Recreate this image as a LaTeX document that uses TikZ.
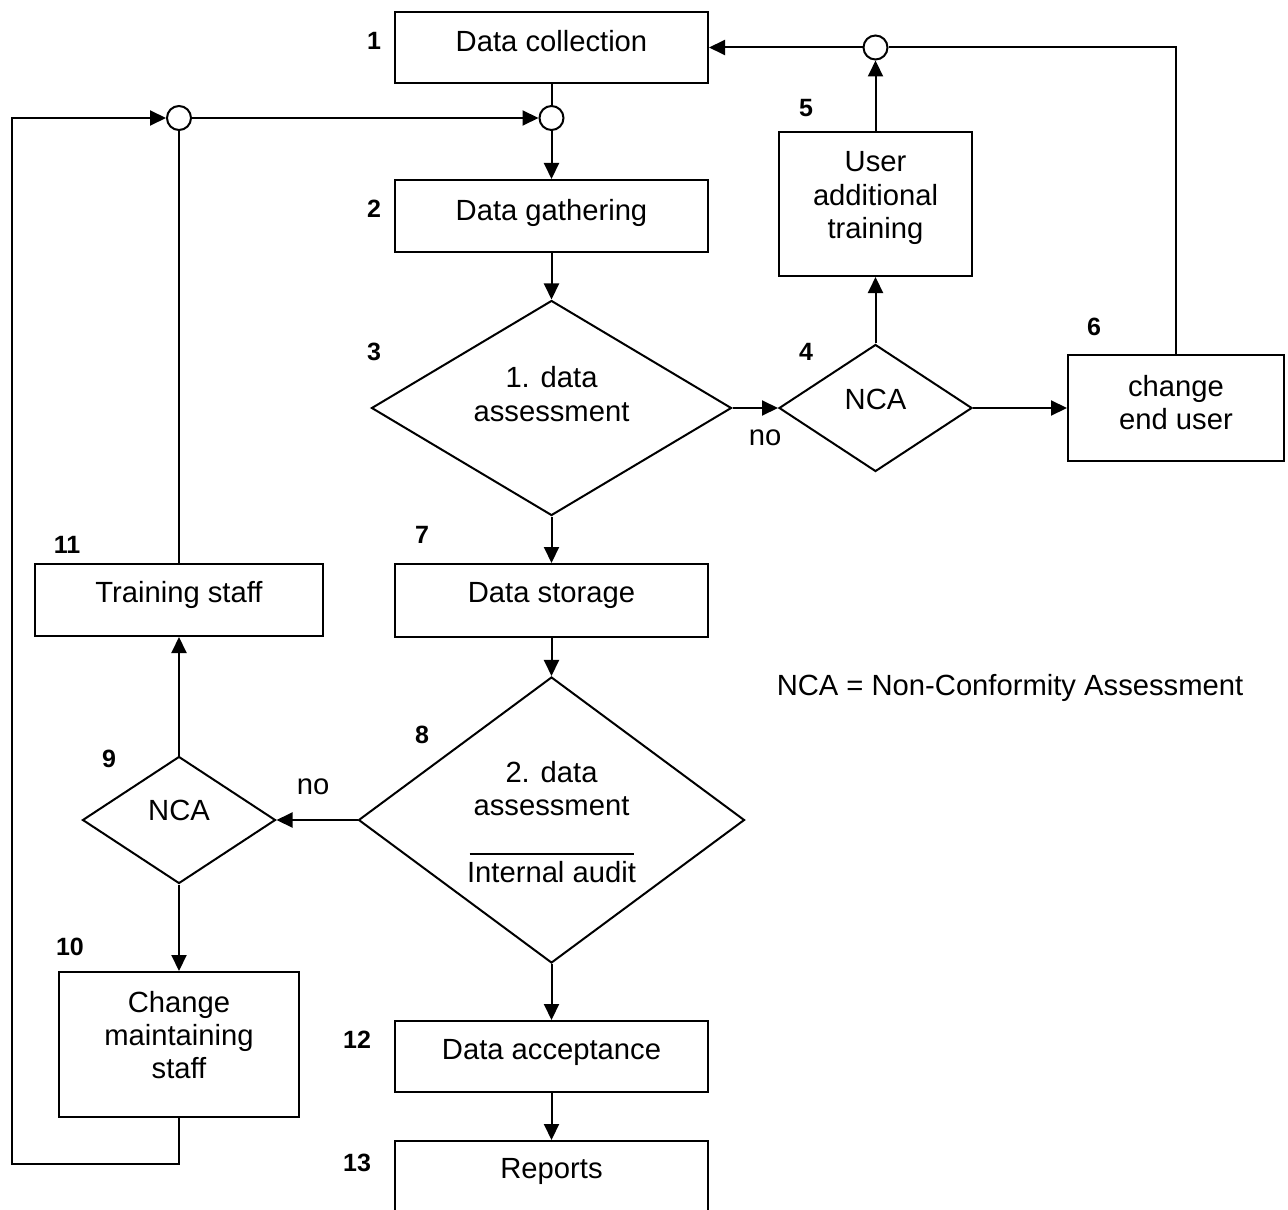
\documentclass[tikz,border=0pt]{standalone}
\usepackage{fontspec}
\setmainfont{Liberation Sans}
\usetikzlibrary{arrows.meta, shapes.geometric}

\begin{document}
\begin{tikzpicture}[x=0.5pt, y=-0.5pt, line width=1pt,
  font=\fontsize{14.6}{16.6}\selectfont,
  box/.style={draw, rectangle, inner sep=0pt},
  decision/.style={draw, diamond, inner sep=0pt},
  junction/.style={draw, circle, fill=white, inner sep=0pt, minimum size=12pt},
  stepno/.style={font=\fontsize{12.5}{14}\selectfont\bfseries},
  arr/.style={-{Triangle[length=8pt, width=7.5pt]}}]
\useasboundingbox (0,0) rectangle (1288,1209);

% Main column
\node[box, minimum width=156.5pt, minimum height=35.5pt,
  label={[yshift=3.25pt]center:Data collection}] (collect) at (551.5,47.5) {};
\node[junction] (j1) at (551.5,118) {};
\node[box, minimum width=156.5pt, minimum height=36pt,
  label={[yshift=1.5pt]center:Data gathering}] (gather) at (551.5,216) {};
\node[decision, minimum width=180pt, minimum height=107.5pt,
  label={[align=center, yshift=7pt]center:1. data\\assessment}] (assess1) at (551.5,408) {};
\node[box, minimum width=156.5pt, minimum height=36.5pt,
  label={[yshift=2.75pt]center:Data storage}] (storage) at (551.5,600.5) {};
\node[decision, minimum width=193pt, minimum height=143pt,
  label={[align=center, yshift=-1pt]center:2. data\\assessment\\[17pt]Internal audit}] (assess2) at (551.5,820) {};
\draw ([shift={(-82,34)}]assess2.center) -- ([shift={(82,34)}]assess2.center);
\node[box, minimum width=156.5pt, minimum height=35.5pt,
  label={[yshift=2.25pt]center:Data acceptance}] (accept) at (551.5,1056.5) {};
\node[box, minimum width=156.5pt, minimum height=36pt,
  label={[yshift=3pt]center:Reports}] (reports) at (551.5,1177) {};

% Right branch
\node[decision, minimum width=96.5pt, minimum height=63.5pt,
  label={[yshift=4.5pt]center:NCA}] (nca1) at (875.5,408) {};
\node[box, minimum width=96.5pt, minimum height=72pt,
  label={[align=center, yshift=3pt]center:User\\additional\\training}] (userTrain) at (875.5,204) {};
\node[junction] (j2) at (875.5,47.5) {};
\node[box, minimum width=108pt, minimum height=53pt,
  label={[align=center, yshift=2.75pt]center:change\\end user}] (changeUser) at (1176,408) {};

% Left branch
\node[decision, minimum width=96.5pt, minimum height=63.5pt,
  label={[yshift=5pt]center:NCA}] (nca2) at (179,820) {};
\node[box, minimum width=144pt, minimum height=36pt,
  label={[yshift=2.5pt]center:Training staff}] (trainStaff) at (179,600) {};
\node[junction] (j3) at (179,118) {};
\node[box, minimum width=120pt, minimum height=72.5pt,
  label={[align=center, yshift=4.75pt]center:Change\\maintaining\\staff}] (changeStaff) at (179,1044.5) {};
\coordinate (loopend) at (12,1164);

% Step numbers
\node[stepno] (n1) at (374,41) {1};
\node[stepno] (n2) at (374,209) {2};
\node[stepno] (n3) at (374,352) {3};
\node[stepno] (n4) at (806,352) {4};
\node[stepno] (n5) at (806,108) {5};
\node[stepno] (n6) at (1094,327) {6};
\node[stepno] (n7) at (422,535) {7};
\node[stepno] (n8) at (422,735) {8};
\node[stepno] (n9) at (109,759) {9};
\node[stepno] (n10) at (70,947) {10};
\node[stepno] (n11) at (67,545) {11};
\node[stepno] (n12) at (357,1040) {12};
\node[stepno] (n13) at (357,1163) {13};

\node (no1) at (765,438) {no};
\node (no2) at (313,787) {no};
\node (legend) at (1010,688) {NCA = Non-Conformity Assessment};

% Connectors
\draw (collect) -- (j1);
\draw[arr] (j1) -- (gather);
\draw[arr] (gather) -- (assess1);
\draw[arr] (assess1) -- (nca1);
\draw[arr] (nca1) -- (userTrain);
\draw[arr] (userTrain) -- (j2);
\draw[arr] (j2) -- (collect);
\draw[arr] (nca1) -- (changeUser);
\draw (changeUser) |- (j2);
\draw[arr] (assess1) -- (storage);
\draw[arr] (storage) -- (assess2);
\draw[arr] (assess2) -- (nca2);
\draw[arr] (nca2) -- (trainStaff);
\draw (trainStaff) -- (j3);
\draw[arr] (j3) -- (j1);
\draw[arr] (nca2) -- (changeStaff);
\draw[arr] (changeStaff) |- (loopend) |- (j3);
\draw[arr] (assess2) -- (accept);
\draw[arr] (accept) -- (reports);
\end{tikzpicture}
\end{document}
